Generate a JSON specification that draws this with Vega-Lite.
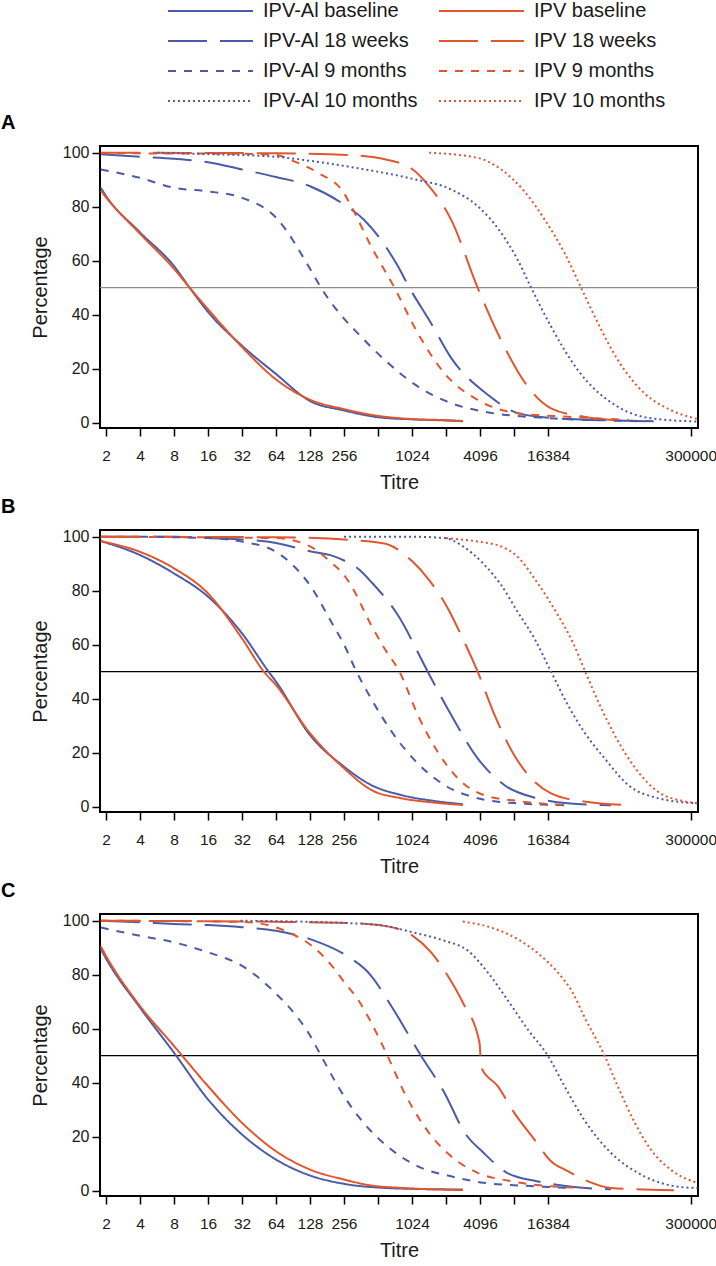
{
  "$schema": "https://vega.github.io/schema/vega-lite/v6.json",
  "padding": 0,
  "spacing": 1,
  "config": {
    "font": "Liberation Sans",
    "view": {"stroke": "#000000", "strokeWidth": 2},
    "axis": {"grid": false, "domain": false, "tickColor": "#000000", "tickWidth": 1.5, "tickSize": 8,
             "labelColor": "#1a1a1a", "titleColor": "#1a1a1a", "labelFont": "Liberation Sans", "titleFont": "Liberation Sans",
             "titleFontWeight": "normal"},
    "title": {"font": "Liberation Sans", "fontWeight": "bold", "fontSize": 20, "color": "#000000"}
  },
  "datasets": {
    "curves": [
      {"p":"A","s":"IPV-Al baseline","t":1.8,"v":87},{"p":"A","s":"IPV-Al baseline","t":2,"v":84},{"p":"A","s":"IPV-Al baseline","t":4,"v":70.5},{"p":"A","s":"IPV-Al baseline","t":8,"v":58},{"p":"A","s":"IPV-Al baseline","t":11,"v":50},{"p":"A","s":"IPV-Al baseline","t":16,"v":41},{"p":"A","s":"IPV-Al baseline","t":32,"v":28.5},{"p":"A","s":"IPV-Al baseline","t":64,"v":18},{"p":"A","s":"IPV-Al baseline","t":128,"v":8},{"p":"A","s":"IPV-Al baseline","t":256,"v":4.5},{"p":"A","s":"IPV-Al baseline","t":512,"v":2},{"p":"A","s":"IPV-Al baseline","t":1024,"v":1.2},{"p":"A","s":"IPV-Al baseline","t":2048,"v":0.8},{"p":"A","s":"IPV-Al baseline","t":2880,"v":0.5},
      {"p":"A","s":"IPV baseline","t":1.8,"v":86},{"p":"A","s":"IPV baseline","t":2,"v":83.5},{"p":"A","s":"IPV baseline","t":4,"v":70},{"p":"A","s":"IPV baseline","t":8,"v":57},{"p":"A","s":"IPV baseline","t":11,"v":50},{"p":"A","s":"IPV baseline","t":16,"v":42},{"p":"A","s":"IPV baseline","t":32,"v":28},{"p":"A","s":"IPV baseline","t":64,"v":16},{"p":"A","s":"IPV baseline","t":128,"v":8.5},{"p":"A","s":"IPV baseline","t":256,"v":5},{"p":"A","s":"IPV baseline","t":512,"v":2.5},{"p":"A","s":"IPV baseline","t":1024,"v":1.3},{"p":"A","s":"IPV baseline","t":2048,"v":0.9},{"p":"A","s":"IPV baseline","t":2880,"v":0.6},
      {"p":"A","s":"IPV-Al 18 weeks","t":1.8,"v":99.4},{"p":"A","s":"IPV-Al 18 weeks","t":4,"v":98.5},{"p":"A","s":"IPV-Al 18 weeks","t":8,"v":97.8},{"p":"A","s":"IPV-Al 18 weeks","t":16,"v":96.5},{"p":"A","s":"IPV-Al 18 weeks","t":32,"v":93.8},{"p":"A","s":"IPV-Al 18 weeks","t":64,"v":91},{"p":"A","s":"IPV-Al 18 weeks","t":128,"v":87.6},{"p":"A","s":"IPV-Al 18 weeks","t":256,"v":80.8},{"p":"A","s":"IPV-Al 18 weeks","t":388,"v":75},{"p":"A","s":"IPV-Al 18 weeks","t":766,"v":58},{"p":"A","s":"IPV-Al 18 weeks","t":970,"v":50},{"p":"A","s":"IPV-Al 18 weeks","t":1500,"v":37},{"p":"A","s":"IPV-Al 18 weeks","t":2270,"v":24},{"p":"A","s":"IPV-Al 18 weeks","t":4800,"v":10.3},{"p":"A","s":"IPV-Al 18 weeks","t":8800,"v":3.5},{"p":"A","s":"IPV-Al 18 weeks","t":16384,"v":1.8},{"p":"A","s":"IPV-Al 18 weeks","t":40000,"v":1},{"p":"A","s":"IPV-Al 18 weeks","t":122000,"v":0.5},
      {"p":"A","s":"IPV 18 weeks","t":1.8,"v":100},{"p":"A","s":"IPV 18 weeks","t":64,"v":99.8},{"p":"A","s":"IPV 18 weeks","t":294,"v":99.1},{"p":"A","s":"IPV 18 weeks","t":600,"v":97.5},{"p":"A","s":"IPV 18 weeks","t":1040,"v":93.8},{"p":"A","s":"IPV 18 weeks","t":1410,"v":88.2},{"p":"A","s":"IPV 18 weeks","t":2270,"v":75.2},{"p":"A","s":"IPV 18 weeks","t":3900,"v":50},{"p":"A","s":"IPV 18 weeks","t":6700,"v":28.2},{"p":"A","s":"IPV 18 weeks","t":10800,"v":13.4},{"p":"A","s":"IPV 18 weeks","t":17400,"v":5.3},{"p":"A","s":"IPV 18 weeks","t":34000,"v":2.2},{"p":"A","s":"IPV 18 weeks","t":100000,"v":0.5},
      {"p":"A","s":"IPV-Al 9 months","t":1.8,"v":93.8},{"p":"A","s":"IPV-Al 9 months","t":4,"v":90.7},{"p":"A","s":"IPV-Al 9 months","t":8,"v":87},{"p":"A","s":"IPV-Al 9 months","t":16,"v":85.7},{"p":"A","s":"IPV-Al 9 months","t":32,"v":83.3},{"p":"A","s":"IPV-Al 9 months","t":64,"v":76},{"p":"A","s":"IPV-Al 9 months","t":128,"v":57},{"p":"A","s":"IPV-Al 9 months","t":160,"v":50},{"p":"A","s":"IPV-Al 9 months","t":256,"v":38.5},{"p":"A","s":"IPV-Al 9 months","t":350,"v":32.5},{"p":"A","s":"IPV-Al 9 months","t":584,"v":23.3},{"p":"A","s":"IPV-Al 9 months","t":1150,"v":13.4},{"p":"A","s":"IPV-Al 9 months","t":2270,"v":7.2},{"p":"A","s":"IPV-Al 9 months","t":4400,"v":4.1},{"p":"A","s":"IPV-Al 9 months","t":17400,"v":1.6},{"p":"A","s":"IPV-Al 9 months","t":60000,"v":0.8},{"p":"A","s":"IPV-Al 9 months","t":150000,"v":0.5},
      {"p":"A","s":"IPV 9 months","t":1.8,"v":99.8},{"p":"A","s":"IPV 9 months","t":32,"v":99.6},{"p":"A","s":"IPV 9 months","t":64,"v":99.2},{"p":"A","s":"IPV 9 months","t":90,"v":97},{"p":"A","s":"IPV 9 months","t":150,"v":92.6},{"p":"A","s":"IPV 9 months","t":256,"v":85},{"p":"A","s":"IPV 9 months","t":294,"v":80.5},{"p":"A","s":"IPV 9 months","t":445,"v":65.3},{"p":"A","s":"IPV 9 months","t":715,"v":50},{"p":"A","s":"IPV 9 months","t":1150,"v":33.2},{"p":"A","s":"IPV 9 months","t":1980,"v":18.3},{"p":"A","s":"IPV 9 months","t":3900,"v":8.4},{"p":"A","s":"IPV 9 months","t":8800,"v":3.5},{"p":"A","s":"IPV 9 months","t":24500,"v":2.2},{"p":"A","s":"IPV 9 months","t":85000,"v":1},
      {"p":"A","s":"IPV-Al 10 months","t":5.7,"v":100},{"p":"A","s":"IPV-Al 10 months","t":16,"v":99.5},{"p":"A","s":"IPV-Al 10 months","t":64,"v":98.5},{"p":"A","s":"IPV-Al 10 months","t":128,"v":97},{"p":"A","s":"IPV-Al 10 months","t":294,"v":94.7},{"p":"A","s":"IPV-Al 10 months","t":1040,"v":90.3},{"p":"A","s":"IPV-Al 10 months","t":2270,"v":86.4},{"p":"A","s":"IPV-Al 10 months","t":3900,"v":80.2},{"p":"A","s":"IPV-Al 10 months","t":6300,"v":70.3},{"p":"A","s":"IPV-Al 10 months","t":8800,"v":60.4},{"p":"A","s":"IPV-Al 10 months","t":11600,"v":50},{"p":"A","s":"IPV-Al 10 months","t":17400,"v":35.6},{"p":"A","s":"IPV-Al 10 months","t":29900,"v":19.6},{"p":"A","s":"IPV-Al 10 months","t":67700,"v":5.9},{"p":"A","s":"IPV-Al 10 months","t":133000,"v":1.6},{"p":"A","s":"IPV-Al 10 months","t":345000,"v":0.4},
      {"p":"A","s":"IPV 10 months","t":1450,"v":100},{"p":"A","s":"IPV 10 months","t":3900,"v":98.1},{"p":"A","s":"IPV 10 months","t":6300,"v":93.8},{"p":"A","s":"IPV 10 months","t":10100,"v":85.7},{"p":"A","s":"IPV 10 months","t":15300,"v":75.2},{"p":"A","s":"IPV 10 months","t":22900,"v":62.9},{"p":"A","s":"IPV 10 months","t":32100,"v":50},{"p":"A","s":"IPV 10 months","t":45200,"v":36.9},{"p":"A","s":"IPV 10 months","t":67700,"v":23.3},{"p":"A","s":"IPV 10 months","t":116600,"v":10.9},{"p":"A","s":"IPV 10 months","t":199000,"v":4.7},{"p":"A","s":"IPV 10 months","t":345000,"v":1.3},

      {"p":"B","s":"IPV-Al baseline","t":1.8,"v":98.4},{"p":"B","s":"IPV-Al baseline","t":4,"v":93.2},{"p":"B","s":"IPV-Al baseline","t":8,"v":86.4},{"p":"B","s":"IPV-Al baseline","t":16,"v":77.8},{"p":"B","s":"IPV-Al baseline","t":32,"v":64.2},{"p":"B","s":"IPV-Al baseline","t":55,"v":50},{"p":"B","s":"IPV-Al baseline","t":64,"v":46.3},{"p":"B","s":"IPV-Al baseline","t":128,"v":26.5},{"p":"B","s":"IPV-Al baseline","t":256,"v":14.8},{"p":"B","s":"IPV-Al baseline","t":445,"v":8},{"p":"B","s":"IPV-Al baseline","t":820,"v":4.3},{"p":"B","s":"IPV-Al baseline","t":1600,"v":2.1},{"p":"B","s":"IPV-Al baseline","t":2880,"v":0.9},
      {"p":"B","s":"IPV baseline","t":1.8,"v":98.4},{"p":"B","s":"IPV baseline","t":4,"v":94.4},{"p":"B","s":"IPV baseline","t":8,"v":88.3},{"p":"B","s":"IPV baseline","t":16,"v":79},{"p":"B","s":"IPV baseline","t":32,"v":62.3},{"p":"B","s":"IPV baseline","t":50,"v":50},{"p":"B","s":"IPV baseline","t":64,"v":45},{"p":"B","s":"IPV baseline","t":128,"v":27.2},{"p":"B","s":"IPV baseline","t":256,"v":14.2},{"p":"B","s":"IPV baseline","t":445,"v":6.2},{"p":"B","s":"IPV baseline","t":820,"v":3.1},{"p":"B","s":"IPV baseline","t":1600,"v":1.5},{"p":"B","s":"IPV baseline","t":2880,"v":0.6},
      {"p":"B","s":"IPV-Al 18 weeks","t":1.8,"v":100},{"p":"B","s":"IPV-Al 18 weeks","t":8,"v":100},{"p":"B","s":"IPV-Al 18 weeks","t":16,"v":99.5},{"p":"B","s":"IPV-Al 18 weeks","t":32,"v":99},{"p":"B","s":"IPV-Al 18 weeks","t":64,"v":97.7},{"p":"B","s":"IPV-Al 18 weeks","t":128,"v":94.6},{"p":"B","s":"IPV-Al 18 weeks","t":200,"v":93},{"p":"B","s":"IPV-Al 18 weeks","t":256,"v":91.2},{"p":"B","s":"IPV-Al 18 weeks","t":350,"v":87.8},{"p":"B","s":"IPV-Al 18 weeks","t":445,"v":83.3},{"p":"B","s":"IPV-Al 18 weeks","t":766,"v":71},{"p":"B","s":"IPV-Al 18 weeks","t":1410,"v":50},{"p":"B","s":"IPV-Al 18 weeks","t":2270,"v":34},{"p":"B","s":"IPV-Al 18 weeks","t":3900,"v":17.9},{"p":"B","s":"IPV-Al 18 weeks","t":6700,"v":8},{"p":"B","s":"IPV-Al 18 weeks","t":13000,"v":3.1},{"p":"B","s":"IPV-Al 18 weeks","t":24500,"v":1.2},{"p":"B","s":"IPV-Al 18 weeks","t":59000,"v":0.5},
      {"p":"B","s":"IPV 18 weeks","t":1.8,"v":100},{"p":"B","s":"IPV 18 weeks","t":64,"v":99.8},{"p":"B","s":"IPV 18 weeks","t":294,"v":98.8},{"p":"B","s":"IPV 18 weeks","t":584,"v":97.5},{"p":"B","s":"IPV 18 weeks","t":1040,"v":90.7},{"p":"B","s":"IPV 18 weeks","t":1410,"v":84.6},{"p":"B","s":"IPV 18 weeks","t":2120,"v":73.5},{"p":"B","s":"IPV 18 weeks","t":2780,"v":63.6},{"p":"B","s":"IPV 18 weeks","t":3900,"v":50},{"p":"B","s":"IPV 18 weeks","t":5500,"v":34},{"p":"B","s":"IPV 18 weeks","t":8200,"v":19.1},{"p":"B","s":"IPV 18 weeks","t":11600,"v":10.5},{"p":"B","s":"IPV 18 weeks","t":17400,"v":4.9},{"p":"B","s":"IPV 18 weeks","t":34000,"v":1.9},{"p":"B","s":"IPV 18 weeks","t":95000,"v":0.5},
      {"p":"B","s":"IPV-Al 9 months","t":4,"v":100},{"p":"B","s":"IPV-Al 9 months","t":16,"v":99.5},{"p":"B","s":"IPV-Al 9 months","t":32,"v":98.2},{"p":"B","s":"IPV-Al 9 months","t":64,"v":94.4},{"p":"B","s":"IPV-Al 9 months","t":90,"v":89.5},{"p":"B","s":"IPV-Al 9 months","t":128,"v":82},{"p":"B","s":"IPV-Al 9 months","t":200,"v":68},{"p":"B","s":"IPV-Al 9 months","t":256,"v":60},{"p":"B","s":"IPV-Al 9 months","t":330,"v":50},{"p":"B","s":"IPV-Al 9 months","t":445,"v":40},{"p":"B","s":"IPV-Al 9 months","t":670,"v":28},{"p":"B","s":"IPV-Al 9 months","t":1150,"v":16},{"p":"B","s":"IPV-Al 9 months","t":1980,"v":8},{"p":"B","s":"IPV-Al 9 months","t":3900,"v":3.1},{"p":"B","s":"IPV-Al 9 months","t":8800,"v":1.2},{"p":"B","s":"IPV-Al 9 months","t":24500,"v":0.5},
      {"p":"B","s":"IPV 9 months","t":1.8,"v":100},{"p":"B","s":"IPV 9 months","t":64,"v":99.5},{"p":"B","s":"IPV 9 months","t":128,"v":96.4},{"p":"B","s":"IPV 9 months","t":200,"v":90.2},{"p":"B","s":"IPV 9 months","t":256,"v":85.8},{"p":"B","s":"IPV 9 months","t":294,"v":82.1},{"p":"B","s":"IPV 9 months","t":445,"v":67.3},{"p":"B","s":"IPV 9 months","t":584,"v":58.6},{"p":"B","s":"IPV 9 months","t":793,"v":50},{"p":"B","s":"IPV 9 months","t":1150,"v":34},{"p":"B","s":"IPV 9 months","t":1720,"v":20.4},{"p":"B","s":"IPV 9 months","t":2600,"v":10.5},{"p":"B","s":"IPV 9 months","t":4400,"v":4.3},{"p":"B","s":"IPV 9 months","t":8800,"v":2.1},{"p":"B","s":"IPV 9 months","t":22000,"v":0.6},
      {"p":"B","s":"IPV-Al 10 months","t":256,"v":100},{"p":"B","s":"IPV-Al 10 months","t":1024,"v":100},{"p":"B","s":"IPV-Al 10 months","t":2000,"v":99.5},{"p":"B","s":"IPV-Al 10 months","t":2780,"v":96.9},{"p":"B","s":"IPV-Al 10 months","t":4500,"v":89.5},{"p":"B","s":"IPV-Al 10 months","t":6300,"v":82.1},{"p":"B","s":"IPV-Al 10 months","t":8800,"v":72.2},{"p":"B","s":"IPV-Al 10 months","t":12400,"v":62.3},{"p":"B","s":"IPV-Al 10 months","t":17400,"v":50},{"p":"B","s":"IPV-Al 10 months","t":24500,"v":37.7},{"p":"B","s":"IPV-Al 10 months","t":34000,"v":27.8},{"p":"B","s":"IPV-Al 10 months","t":51800,"v":17.9},{"p":"B","s":"IPV-Al 10 months","t":84000,"v":8},{"p":"B","s":"IPV-Al 10 months","t":154000,"v":3.1},{"p":"B","s":"IPV-Al 10 months","t":345000,"v":1.2},
      {"p":"B","s":"IPV 10 months","t":2050,"v":99.5},{"p":"B","s":"IPV 10 months","t":3900,"v":98.2},{"p":"B","s":"IPV 10 months","t":6300,"v":96.4},{"p":"B","s":"IPV 10 months","t":8800,"v":92.6},{"p":"B","s":"IPV 10 months","t":13000,"v":83.3},{"p":"B","s":"IPV 10 months","t":20000,"v":71},{"p":"B","s":"IPV 10 months","t":27000,"v":61},{"p":"B","s":"IPV 10 months","t":35000,"v":50},{"p":"B","s":"IPV 10 months","t":46000,"v":38.5},{"p":"B","s":"IPV 10 months","t":67700,"v":24.5},{"p":"B","s":"IPV 10 months","t":96000,"v":14.5},{"p":"B","s":"IPV 10 months","t":154000,"v":5.5},{"p":"B","s":"IPV 10 months","t":262000,"v":2},{"p":"B","s":"IPV 10 months","t":345000,"v":1.2},

      {"p":"C","s":"IPV-Al baseline","t":1.8,"v":89.5},{"p":"C","s":"IPV-Al baseline","t":2,"v":86},{"p":"C","s":"IPV-Al baseline","t":4,"v":67.8},{"p":"C","s":"IPV-Al baseline","t":8,"v":51.1},{"p":"C","s":"IPV-Al baseline","t":16,"v":33.8},{"p":"C","s":"IPV-Al baseline","t":32,"v":20.8},{"p":"C","s":"IPV-Al baseline","t":64,"v":11.5},{"p":"C","s":"IPV-Al baseline","t":128,"v":5.6},{"p":"C","s":"IPV-Al baseline","t":256,"v":2.5},{"p":"C","s":"IPV-Al baseline","t":584,"v":1},{"p":"C","s":"IPV-Al baseline","t":1200,"v":0.6},{"p":"C","s":"IPV-Al baseline","t":2880,"v":0.4},
      {"p":"C","s":"IPV baseline","t":1.8,"v":90.5},{"p":"C","s":"IPV baseline","t":2,"v":87},{"p":"C","s":"IPV baseline","t":4,"v":68.4},{"p":"C","s":"IPV baseline","t":8,"v":53.6},{"p":"C","s":"IPV baseline","t":16,"v":38.7},{"p":"C","s":"IPV baseline","t":32,"v":25.1},{"p":"C","s":"IPV baseline","t":64,"v":14.6},{"p":"C","s":"IPV baseline","t":128,"v":7.8},{"p":"C","s":"IPV baseline","t":256,"v":4.1},{"p":"C","s":"IPV baseline","t":445,"v":1.9},{"p":"C","s":"IPV baseline","t":820,"v":1},{"p":"C","s":"IPV baseline","t":2880,"v":0.2},
      {"p":"C","s":"IPV-Al 18 weeks","t":1.8,"v":100},{"p":"C","s":"IPV-Al 18 weeks","t":4,"v":99.4},{"p":"C","s":"IPV-Al 18 weeks","t":8,"v":98.8},{"p":"C","s":"IPV-Al 18 weeks","t":16,"v":98.4},{"p":"C","s":"IPV-Al 18 weeks","t":32,"v":97.6},{"p":"C","s":"IPV-Al 18 weeks","t":64,"v":96.3},{"p":"C","s":"IPV-Al 18 weeks","t":128,"v":93.2},{"p":"C","s":"IPV-Al 18 weeks","t":256,"v":87.6},{"p":"C","s":"IPV-Al 18 weeks","t":445,"v":79.6},{"p":"C","s":"IPV-Al 18 weeks","t":670,"v":68.4},{"p":"C","s":"IPV-Al 18 weeks","t":1230,"v":50},{"p":"C","s":"IPV-Al 18 weeks","t":1980,"v":36.3},{"p":"C","s":"IPV-Al 18 weeks","t":3000,"v":21.4},{"p":"C","s":"IPV-Al 18 weeks","t":4400,"v":14},{"p":"C","s":"IPV-Al 18 weeks","t":7100,"v":6.6},{"p":"C","s":"IPV-Al 18 weeks","t":13000,"v":3.5},{"p":"C","s":"IPV-Al 18 weeks","t":24500,"v":1.6},{"p":"C","s":"IPV-Al 18 weeks","t":59000,"v":0.5},
      {"p":"C","s":"IPV 18 weeks","t":1.8,"v":100},{"p":"C","s":"IPV 18 weeks","t":64,"v":99.6},{"p":"C","s":"IPV 18 weeks","t":294,"v":99.1},{"p":"C","s":"IPV 18 weeks","t":584,"v":98.1},{"p":"C","s":"IPV 18 weeks","t":1040,"v":94.4},{"p":"C","s":"IPV 18 weeks","t":1510,"v":88.3},{"p":"C","s":"IPV 18 weeks","t":2120,"v":79.6},{"p":"C","s":"IPV 18 weeks","t":2880,"v":69.7},{"p":"C","s":"IPV 18 weeks","t":4050,"v":54.8},{"p":"C","s":"IPV 18 weeks","t":4200,"v":45.6},{"p":"C","s":"IPV 18 weeks","t":5870,"v":38.7},{"p":"C","s":"IPV 18 weeks","t":8200,"v":28.9},{"p":"C","s":"IPV 18 weeks","t":12400,"v":18.9},{"p":"C","s":"IPV 18 weeks","t":17400,"v":10.9},{"p":"C","s":"IPV 18 weeks","t":24500,"v":7.2},{"p":"C","s":"IPV 18 weeks","t":34000,"v":4.1},{"p":"C","s":"IPV 18 weeks","t":59000,"v":1},{"p":"C","s":"IPV 18 weeks","t":213000,"v":0.1},
      {"p":"C","s":"IPV-Al 9 months","t":1.8,"v":97.5},{"p":"C","s":"IPV-Al 9 months","t":4,"v":94.4},{"p":"C","s":"IPV-Al 9 months","t":8,"v":92},{"p":"C","s":"IPV-Al 9 months","t":16,"v":88.3},{"p":"C","s":"IPV-Al 9 months","t":32,"v":83.3},{"p":"C","s":"IPV-Al 9 months","t":64,"v":73},{"p":"C","s":"IPV-Al 9 months","t":100,"v":64},{"p":"C","s":"IPV-Al 9 months","t":128,"v":57.5},{"p":"C","s":"IPV-Al 9 months","t":160,"v":50},{"p":"C","s":"IPV-Al 9 months","t":256,"v":35},{"p":"C","s":"IPV-Al 9 months","t":350,"v":27},{"p":"C","s":"IPV-Al 9 months","t":445,"v":22},{"p":"C","s":"IPV-Al 9 months","t":670,"v":15.2},{"p":"C","s":"IPV-Al 9 months","t":1150,"v":9},{"p":"C","s":"IPV-Al 9 months","t":2270,"v":5.3},{"p":"C","s":"IPV-Al 9 months","t":4400,"v":2.9},{"p":"C","s":"IPV-Al 9 months","t":12400,"v":1.6},{"p":"C","s":"IPV-Al 9 months","t":24500,"v":1},
      {"p":"C","s":"IPV 9 months","t":1.8,"v":100},{"p":"C","s":"IPV 9 months","t":32,"v":99.6},{"p":"C","s":"IPV 9 months","t":64,"v":97.5},{"p":"C","s":"IPV 9 months","t":90,"v":95},{"p":"C","s":"IPV 9 months","t":128,"v":91.2},{"p":"C","s":"IPV 9 months","t":200,"v":83.3},{"p":"C","s":"IPV 9 months","t":256,"v":77.4},{"p":"C","s":"IPV 9 months","t":350,"v":70},{"p":"C","s":"IPV 9 months","t":445,"v":62.3},{"p":"C","s":"IPV 9 months","t":620,"v":50},{"p":"C","s":"IPV 9 months","t":875,"v":36.3},{"p":"C","s":"IPV 9 months","t":1310,"v":23.9},{"p":"C","s":"IPV 9 months","t":2270,"v":12.7},{"p":"C","s":"IPV 9 months","t":3900,"v":6.6},{"p":"C","s":"IPV 9 months","t":7700,"v":3.5},{"p":"C","s":"IPV 9 months","t":17400,"v":1.6},{"p":"C","s":"IPV 9 months","t":34000,"v":1},
      {"p":"C","s":"IPV-Al 10 months","t":31,"v":100},{"p":"C","s":"IPV-Al 10 months","t":294,"v":99.1},{"p":"C","s":"IPV-Al 10 months","t":584,"v":98.1},{"p":"C","s":"IPV-Al 10 months","t":1040,"v":95.7},{"p":"C","s":"IPV-Al 10 months","t":1980,"v":92.6},{"p":"C","s":"IPV-Al 10 months","t":3200,"v":88.9},{"p":"C","s":"IPV-Al 10 months","t":4800,"v":80.8},{"p":"C","s":"IPV-Al 10 months","t":7100,"v":70.9},{"p":"C","s":"IPV-Al 10 months","t":10800,"v":59.8},{"p":"C","s":"IPV-Al 10 months","t":16300,"v":50},{"p":"C","s":"IPV-Al 10 months","t":22900,"v":38.7},{"p":"C","s":"IPV-Al 10 months","t":34000,"v":26.4},{"p":"C","s":"IPV-Al 10 months","t":59000,"v":14},{"p":"C","s":"IPV-Al 10 months","t":116600,"v":5.3},{"p":"C","s":"IPV-Al 10 months","t":262000,"v":1.2},{"p":"C","s":"IPV-Al 10 months","t":345000,"v":1},
      {"p":"C","s":"IPV 10 months","t":2880,"v":99.7},{"p":"C","s":"IPV 10 months","t":5100,"v":97.5},{"p":"C","s":"IPV 10 months","t":8800,"v":93.2},{"p":"C","s":"IPV 10 months","t":13000,"v":88.3},{"p":"C","s":"IPV 10 months","t":20000,"v":80.8},{"p":"C","s":"IPV 10 months","t":27000,"v":73.4},{"p":"C","s":"IPV 10 months","t":34000,"v":64.7},{"p":"C","s":"IPV 10 months","t":51800,"v":50},{"p":"C","s":"IPV 10 months","t":67700,"v":38.7},{"p":"C","s":"IPV 10 months","t":96000,"v":25.1},{"p":"C","s":"IPV 10 months","t":133000,"v":15.2},{"p":"C","s":"IPV 10 months","t":199000,"v":7.8},{"p":"C","s":"IPV 10 months","t":345000,"v":2.8}
    ]
  },
  "resolve": {"scale": {"color": "shared", "strokeDash": "shared"}, "legend": {"color": "shared", "strokeDash": "shared"}},
  "vconcat": [
    {
      "width": 598, "height": 282,
      "title": {"text": "A", "anchor": "start", "frame": "group", "dx": -99, "offset": 12},
      "layer": [
        {
          "data": {"values": [{"ref": 50}]},
          "mark": {"type": "rule", "color": "#8c8c8c", "strokeWidth": 1.3},
          "encoding": {"y": {"field": "ref", "type": "quantitative", "scale": {"domain": [-2, 102.5], "nice": false, "zero": false}}}
        },
        {
          "data": {"name": "curves"},
          "transform": [{"filter": "datum.p === 'A'"}],
          "mark": {"type": "line", "strokeWidth": 2, "interpolate": "monotone", "clip": true},
          "encoding": {
            "x": {"field": "t", "type": "quantitative", "title": "Titre",
                  "scale": {"type": "log", "base": 2, "domain": [1.77, 348000], "nice": false},
                  "axis": {"values": [2,4,8,16,32,64,128,256,512,1024,2048,4096,8192,16384,300000], "format": "d",
                           "labelExpr": "indexof([512,2048,8192], datum.value) >= 0 ? '' : datum.label",
                           "labelOverlap": false, "labelFlush": false, "labelFontSize": 15.5, "labelPadding": 12,
                           "titleFontSize": 20, "titlePadding": 9}},
            "y": {"field": "v", "type": "quantitative", "title": "Percentage",
                  "scale": {"domain": [-2, 102.5], "nice": false, "zero": false},
                  "axis": {"values": [0,20,40,60,80,100], "labelFontSize": 16, "labelPadding": 3, "titleFontSize": 20, "titlePadding": 12}},
            "color": {"field": "s", "type": "nominal",
                      "scale": {"domain": ["IPV-Al baseline","IPV-Al 18 weeks","IPV-Al 9 months","IPV-Al 10 months","IPV baseline","IPV 18 weeks","IPV 9 months","IPV 10 months"],
                                "range": ["#4a5ca8","#4a5ca8","#4a5ca8","#4a5ca8","#e2562e","#e2562e","#e2562e","#e2562e"]},
                      "legend": {"title": null, "orient": "none", "legendX": 67, "legendY": -146, "columns": 2, "columnPadding": 20, "rowPadding": 8, "clipHeight": 22,
                                 "symbolType": "stroke", "symbolSize": 7225, "symbolStrokeWidth": 2, "labelOffset": 9, "labelFontSize": 20, "labelLimit": 300, "labelColor": "#1a1a1a"}},
            "strokeDash": {"field": "s", "type": "nominal",
                      "scale": {"domain": ["IPV-Al baseline","IPV-Al 18 weeks","IPV-Al 9 months","IPV-Al 10 months","IPV baseline","IPV 18 weeks","IPV 9 months","IPV 10 months"],
                                "range": [[1,0],[39,13],[8,8],[2,3],[1,0],[39,13],[8,8],[2,3]]},
                      "legend": {"title": null, "orient": "none", "legendX": 67, "legendY": -146, "columns": 2, "columnPadding": 20, "rowPadding": 8, "clipHeight": 22,
                                 "symbolType": "stroke", "symbolSize": 7225, "symbolStrokeWidth": 2, "labelOffset": 9, "labelFontSize": 20, "labelLimit": 300, "labelColor": "#1a1a1a"}}
          }
        }
      ]
    },
    {
      "width": 598, "height": 282,
      "title": {"text": "B", "anchor": "start", "frame": "group", "dx": -99, "offset": 12},
      "layer": [
        {
          "data": {"values": [{"ref": 50}]},
          "mark": {"type": "rule", "color": "#000000", "strokeWidth": 1.2},
          "encoding": {"y": {"field": "ref", "type": "quantitative", "scale": {"domain": [-2, 102.5], "nice": false, "zero": false}}}
        },
        {
          "data": {"name": "curves"},
          "transform": [{"filter": "datum.p === 'B'"}],
          "mark": {"type": "line", "strokeWidth": 2, "interpolate": "monotone", "clip": true},
          "encoding": {
            "x": {"field": "t", "type": "quantitative", "title": "Titre",
                  "scale": {"type": "log", "base": 2, "domain": [1.77, 348000], "nice": false},
                  "axis": {"values": [2,4,8,16,32,64,128,256,512,1024,2048,4096,8192,16384,300000], "format": "d",
                           "labelExpr": "indexof([512,2048,8192], datum.value) >= 0 ? '' : datum.label",
                           "labelOverlap": false, "labelFlush": false, "labelFontSize": 15.5, "labelPadding": 12,
                           "titleFontSize": 20, "titlePadding": 9}},
            "y": {"field": "v", "type": "quantitative", "title": "Percentage",
                  "scale": {"domain": [-2, 102.5], "nice": false, "zero": false},
                  "axis": {"values": [0,20,40,60,80,100], "labelFontSize": 16, "labelPadding": 3, "titleFontSize": 20, "titlePadding": 12}},
            "color": {"field": "s", "type": "nominal"},
            "strokeDash": {"field": "s", "type": "nominal"}
          }
        }
      ]
    },
    {
      "width": 598, "height": 282,
      "title": {"text": "C", "anchor": "start", "frame": "group", "dx": -99, "offset": 12},
      "layer": [
        {
          "data": {"values": [{"ref": 50}]},
          "mark": {"type": "rule", "color": "#000000", "strokeWidth": 1.2},
          "encoding": {"y": {"field": "ref", "type": "quantitative", "scale": {"domain": [-2, 102.5], "nice": false, "zero": false}}}
        },
        {
          "data": {"name": "curves"},
          "transform": [{"filter": "datum.p === 'C'"}],
          "mark": {"type": "line", "strokeWidth": 2, "interpolate": "monotone", "clip": true},
          "encoding": {
            "x": {"field": "t", "type": "quantitative", "title": "Titre",
                  "scale": {"type": "log", "base": 2, "domain": [1.77, 348000], "nice": false},
                  "axis": {"values": [2,4,8,16,32,64,128,256,512,1024,2048,4096,8192,16384,300000], "format": "d",
                           "labelExpr": "indexof([512,2048,8192], datum.value) >= 0 ? '' : datum.label",
                           "labelOverlap": false, "labelFlush": false, "labelFontSize": 15.5, "labelPadding": 12,
                           "titleFontSize": 20, "titlePadding": 9}},
            "y": {"field": "v", "type": "quantitative", "title": "Percentage",
                  "scale": {"domain": [-2, 102.5], "nice": false, "zero": false},
                  "axis": {"values": [0,20,40,60,80,100], "labelFontSize": 16, "labelPadding": 3, "titleFontSize": 20, "titlePadding": 12}},
            "color": {"field": "s", "type": "nominal"},
            "strokeDash": {"field": "s", "type": "nominal"}
          }
        }
      ]
    }
  ]
}
